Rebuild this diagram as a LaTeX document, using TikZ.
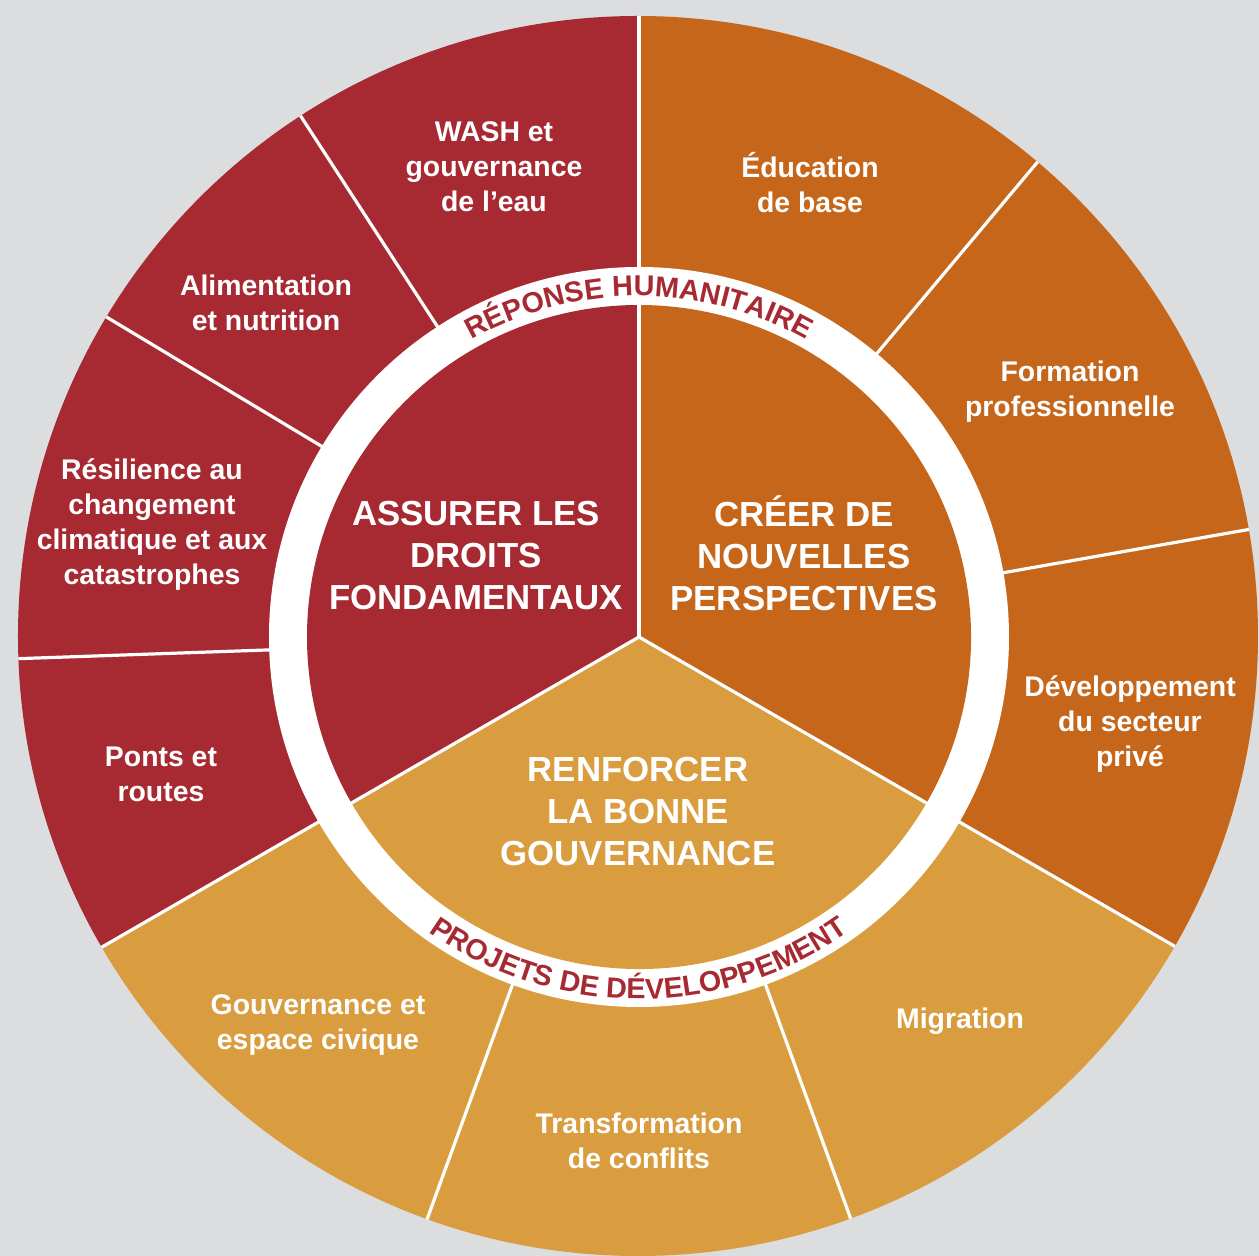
\documentclass[tikz,border=0pt]{standalone}
\usepackage{fontspec}
\setmainfont{Liberation Sans}
\usetikzlibrary{decorations.text}
\definecolor{bgc}{HTML}{DCDDDF}
\definecolor{redc}{HTML}{A72A33}
\definecolor{orc}{HTML}{C5661A}
\definecolor{goldc}{HTML}{D99D3F}
\newcommand\ringfont{\fontsize{14.4}{16}\selectfont\bfseries}
\begin{document}
\begin{tikzpicture}[x=0.5pt,y=0.5pt,
  outertext/.style={text=white, font=\fontsize{14.2}{17.5}\selectfont\bfseries, align=center, inner sep=0pt},
  coretext/.style={text=white, font=\fontsize{17.4}{21}\selectfont\bfseries, align=center, inner sep=0pt},
  divider/.style={white, line width=1.6pt}
]
\useasboundingbox (-639,-619) rectangle (620,637);
\fill[bgc] (-639,-619) rectangle (620,637);
% outer ring
\begin{scope}
  \clip (-1,1) circle[radius=620];
  \fill[redc] (0,0) -- (90:700) arc[start angle=90,end angle=210,radius=700] -- cycle;
  \fill[goldc] (0,0) -- (210:700) arc[start angle=210,end angle=330,radius=700] -- cycle;
  \fill[orc] (0,0) -- (-30:700) arc[start angle=-30,end angle=90,radius=700] -- cycle;
  \foreach \a in {90,123,149,182,210,250,290,330,10,50}
    \draw[divider] (\a:360) -- (\a:660);
\end{scope}
% white ring
\fill[white] (0,0) circle[radius=370];
% inner disc
\fill[redc] (0,0) -- (90:332) arc[start angle=90,end angle=210,radius=332] -- cycle;
\fill[goldc] (0,0) -- (210:332) arc[start angle=210,end angle=330,radius=332] -- cycle;
\fill[orc] (0,0) -- (-30:332) arc[start angle=-30,end angle=90,radius=332] -- cycle;
\coordinate (hub) at (0,0);
\coordinate (up) at (90:340);
\coordinate (dl) at (210:340);
\coordinate (dr) at (330:340);
\draw[divider] (hub) -- (up);
\draw[divider] (hub) -- (dl);
\draw[divider] (hub) -- (dr);
% ring texts
\path[decorate, decoration={text along path, text align=center,
  text={|\ringfont\color{redc}|RÉPONSE HUMANITAIRE}}]
  (150:341) arc[start angle=150,end angle=30,radius=341];
\path[decorate, decoration={text along path, text align=center,
  text={|\ringfont\color{redc}|PROJETS DE DÉVELOPPEMENT}}]
  (210:362) arc[start angle=210,end angle=330,radius=362];
% core texts
\node[coretext] (droits) at (-163,81) {ASSURER LES\\DROITS\\FONDAMENTAUX};
\node[coretext] (perspectives) at (165,84) {CRÉER DE\\NOUVELLES\\PERSPECTIVES};
\node[coretext] (gouv) at (-1,-175) {RENFORCER\\LA BONNE\\GOUVERNANCE};
% outer texts
\node[outertext] (wash) at (-145,470) {WASH et\\gouvernance\\de l’eau};
\node[outertext] (alim) at (-373,334) {Alimentation\\et nutrition};
\node[outertext] (resil) at (-487,112) {Résilience au\\changement\\climatique et aux\\catastrophes};
\node[outertext] (ponts) at (-478,-137) {Ponts et\\routes};
\node[outertext] (civique) at (-321,-388) {Gouvernance et\\espace civique};
\node[outertext] (conflits) at (0,-504) {Transformation\\de conflits};
\node[outertext] (migration) at (321,-384) {Migration};
\node[outertext] (prive) at (491,-87) {Développement\\du secteur\\privé};
\node[outertext] (formation) at (431,245) {Formation\\professionnelle};
\node[outertext] (education) at (171,454) {Éducation\\de base};
\end{tikzpicture}
\end{document}
